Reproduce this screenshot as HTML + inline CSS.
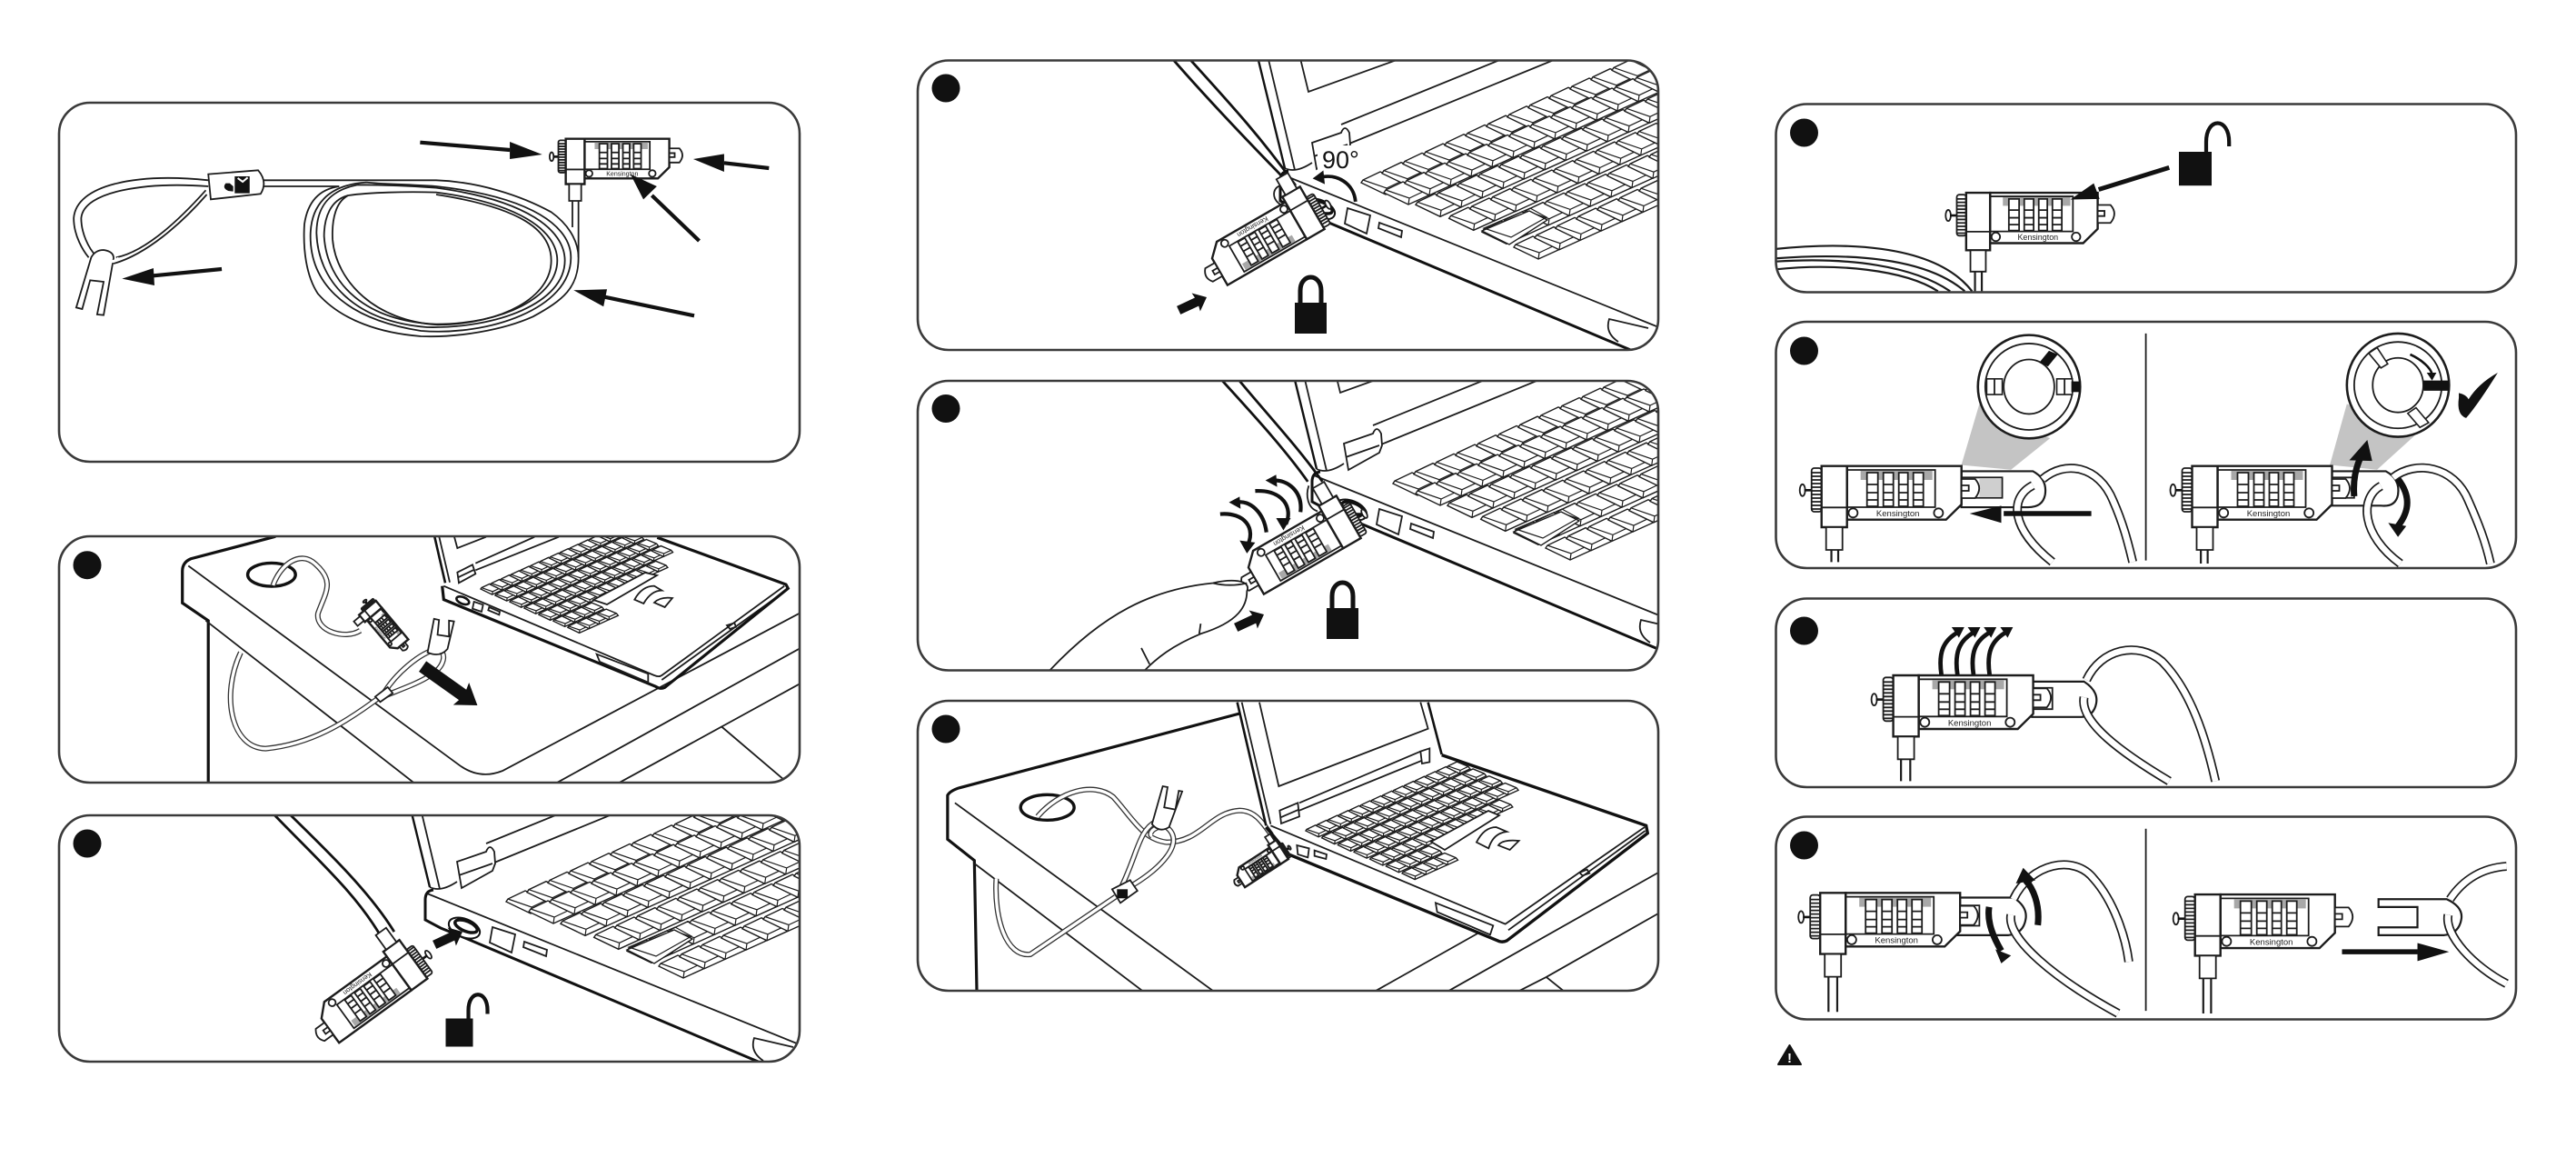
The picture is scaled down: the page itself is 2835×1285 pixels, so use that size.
<!DOCTYPE html>
<html><head><meta charset="utf-8"><title>Combination cable lock instructions</title>
<style>
html,body{margin:0;padding:0;background:#fff}
svg{display:block}
svg *{vector-effect:non-scaling-stroke}
.t{fill:none;stroke:#1c1c1c;stroke-width:1.8}
.m{fill:none;stroke:#111;stroke-width:2.6}
.h{fill:none;stroke:#111;stroke-width:4.2}
.hh{fill:none;stroke:#111;stroke-width:7}
.f{fill:#111;stroke:none}
.wf{fill:#fff;stroke:#1c1c1c;stroke-width:1.8}
.kf{fill:#fff;stroke:#1c1c1c;stroke-width:1.4}
.kl{fill:none;stroke:#1c1c1c;stroke-width:1.2}
.c{fill:none;stroke:#333;stroke-width:6}
.w{fill:none;stroke:#fff;stroke-width:3.4}
.C{fill:none;stroke:#1c1c1c;stroke-width:10}
.W{fill:none;stroke:#fff;stroke-width:6.6}
.p{fill:none;stroke:#3a3a3a;stroke-width:2.6}
text{font-family:"Liberation Sans",sans-serif}
</style></head><body>
<svg xmlns="http://www.w3.org/2000/svg" width="2835" height="1285" viewBox="0 0 2835 1285">
<defs>
<clipPath id="c1"><rect x="65" y="113" width="815" height="395" rx="34"/></clipPath>
<clipPath id="c2"><rect x="65" y="590" width="815" height="271" rx="34"/></clipPath>
<clipPath id="c3"><rect x="65" y="897" width="815" height="271" rx="34"/></clipPath>
<clipPath id="c4"><rect x="1010" y="66.500" width="815" height="318.500" rx="34"/></clipPath>
<clipPath id="c5"><rect x="1010" y="419" width="815" height="318.500" rx="34"/></clipPath>
<clipPath id="c6"><rect x="1010" y="771" width="815" height="319" rx="34"/></clipPath>
<clipPath id="c7"><rect x="1954.500" y="114.500" width="814.500" height="207" rx="34"/></clipPath>
<clipPath id="c8"><rect x="1954.500" y="354" width="814.500" height="271" rx="34"/></clipPath>
<clipPath id="c9"><rect x="1954.500" y="658.500" width="814.500" height="207.500" rx="34"/></clipPath>
<clipPath id="c10"><rect x="1954.500" y="898.500" width="814.500" height="223" rx="34"/></clipPath>

<g id="L">
<ellipse cx="-35" cy="-40.700" rx="3" ry="6.500" class="wf"/>
<path d="M-33 -40.700H-25" class="m"/>
<rect x="-25" y="-65" width="11" height="48" rx="3" class="wf"/>
<path d="M-25 -60h11M-25 -56h11M-25 -52h11M-25 -48h11M-25 -44h11M-25 -40h11M-25 -36h11M-25 -32h11M-25 -28h11M-25 -24h11M-25 -20h11" class="t"/>
<path d="M14 -67.300H140V-25L123 -8.300H14Z" class="wf" style="stroke-width:2.4"/>
<rect x="14" y="-63" width="97" height="41" fill="none" class="t"/>
<rect x="29" y="-62" width="79" height="10" fill="#a8a8a8"/>
<g class="wf">
<rect x="36" y="-60" width="12" height="37"/><rect x="54" y="-60" width="11" height="37"/><rect x="71" y="-60" width="10" height="37"/><rect x="87" y="-60" width="11" height="37"/>
</g>
<path d="M36 -47h12M36 -38h12M36 -30h12M54 -47h11M54 -38h11M54 -30h11M71 -47h10M71 -38h10M71 -30h10M87 -47h11M87 -38h11M87 -30h11" class="t"/>
<ellipse cx="20.700" cy="-15.700" rx="5" ry="5" class="wf"/><ellipse cx="114.700" cy="-15.700" rx="5" ry="5" class="wf"/>
<text x="70" y="-12" font-size="9.500" text-anchor="middle" fill="#222">Kensington</text>
<path d="M140 -53H155Q164 -43 155 -32H140Z" class="wf"/>
<rect x="140" y="-46" width="8" height="6" class="wf"/>
<path d="M-14 -67.300H14V0H-14Z" class="wf" style="stroke-width:2.4"/>
<path d="M-14 -21.700H14" class="t"/>
<path d="M-9 0H9V25H-9Z" class="wf"/>
</g>

<g id="K"><path d="M0 0L2 -3L21 -12L45 -2L49 3L27 13Z" class="kf"/><path d="M2 -3L28 6L45 -2M28 6L27 13" class="kl"/></g>
<g id="r4"><use href="#K"/><use href="#K" x="23" y="-10.300"/><use href="#K" x="46" y="-20.600"/><use href="#K" x="69" y="-30.900"/></g>
<g id="r12"><use href="#r4"/><use href="#r4" x="92" y="-41.200"/><use href="#r4" x="184" y="-82.400"/></g>
<g id="r14"><use href="#r12"/><use href="#K" x="276" y="-123.600"/><use href="#K" x="299" y="-133.900"/></g>
<g id="r16"><use href="#r12"/><use href="#r4" x="276" y="-123.600"/></g>
<g id="kb"><use href="#r16"/><use href="#r16" x="25" y="11"/><use href="#r16" x="60" y="24.300"/><use href="#r16" x="96.700" y="39.300"/><use href="#r16" x="133" y="54.300"/>
<path d="M133 53L185 31L205 41L163 68Z" class="kf"/><path d="M135 50L186 28L204 38L165 60Z" class="kl"/>
<use href="#r16" x="168" y="71"/></g>
<g id="kbs"><use href="#r14"/><use href="#r14" x="34" y="15"/><use href="#r14" x="68" y="30"/><use href="#r14" x="102" y="45"/><use href="#r12" x="136" y="60"/><use href="#r4" x="170" y="75"/><use href="#r4" x="204" y="90"/></g>

<g id="lap">
<path d="M-142 -253L-84 -16" class="m" style="stroke-width:2.4"/>
<path d="M-130 -253L-73 -14" class="t"/>
<path d="M-84 -16Q-72 -10 -54 -22" class="t"/>
<path d="M-80 -190L-58 -100L100 -157" class="t"/>
<path d="M-22 -64L300 -195M-13 -43L300 -171" class="t"/>
<path d="M-54 -44L-22 -55Q-18 -65 -13 -55L-12 -42L-15 -34L-49 -15ZM-52 -29L-15 -42" class="wf"/>
<path d="M-87 -9L320 156L360 172" class="t"/>
<path d="M-80 -13Q-89 -12 -89 -2V20L-72 29L-45 40L275 175L330 198" class="m" style="stroke-width:3"/>
<ellipse cx="-46" cy="29" rx="18" ry="10" transform="rotate(22 -46 29)" fill="#fff" stroke="#111" stroke-width="2"/>
<ellipse cx="-44" cy="27" rx="13" ry="5.500" transform="rotate(22 -44 27)" fill="none" stroke="#111" stroke-width="3.5"/>
<path d="M-15 28L10 36L6 56L-18 45Z" class="t"/>
<path d="M20 44L45 53L44 60L19 50Z" class="t"/>
<path d="M283 175Q268 165 273 150L316 160" class="t"/>
<use href="#kb"/>
</g>

<g id="cl"><rect x="0" y="0" width="35" height="34" class="f"/><path d="M6 1V-13C6 -33 29 -33 29 -13V1" fill="none" stroke="#111" stroke-width="5"/></g>
<g id="ol"><rect x="0" y="0" width="30" height="31" class="f"/><path d="M25 1V-9C25 -32 46 -32 46 -9V-5" fill="none" stroke="#111" stroke-width="4.200"/></g>
<polygon id="ba" points="0,0 -13,-11 -12,-5 -34,-5 -34,5 -12,5 -13,11" class="f"/>

<path id="pa" d="M475 190C490 130 530 90 560 130C600 180 580 210 565 270C560 320 620 345 650 318"/>
<path id="pb" d="M410 380C370 500 390 650 460 652C550 640 620 580 695 500"/>
<path id="pc" d="M695 500C720 440 770 380 805 370C825 380 820 420 790 445C770 465 730 485 695 505"/>
<path id="q1" d="M265 415C310 330 380 300 420 350C460 420 480 490 530 500C600 500 620 400 680 395C710 395 725 430 745 475"/>
<path id="q2" d="M430 670C470 550 470 460 510 430"/>
<path id="q3" d="M440 660C520 590 570 500 530 450C510 440 490 470 500 480"/>
<path id="q4" d="M425 680L250 870C200 880 175 750 180 620"/>
<path id="r1" d="M575 1240C620 1180 690 1195 720 1310C740 1380 750 1440 760 1505"/>
<path id="r2" d="M555 1260C505 1300 510 1400 595 1505"/>
<path id="r3" d="M1295 1235C1340 1180 1420 1195 1450 1310C1470 1380 1485 1440 1495 1510"/>
<path id="r4p" d="M1270 1262C1225 1300 1230 1420 1310 1510"/>
<path id="s1" d="M665 285C695 185 770 160 820 225C880 320 910 470 930 608"/>
<path id="s2" d="M660 340C650 420 740 520 835 608"/>
<path id="u1" d="M515 985C550 870 640 840 680 920C720 990 745 1100 752 1185"/>
<path id="u2" d="M510 1035C500 1110 600 1240 730 1350"/>
<path id="u3" d="M1412 985C1440 920 1480 885 1528 880"/>
<path id="u4" d="M1408 1035C1400 1100 1460 1200 1528 1255"/>
</defs>

<rect width="2835" height="1285" fill="#fff"/>

<!-- P1 -->
<g clip-path="url(#c1)"><g transform="translate(320 140) scale(.3333)">
<path d="M-110 175H480C620 180 760 225 860 280C930 330 950 390 950 430C950 530 900 570 800 625C700 670 550 695 430 690C300 680 170 640 90 550C50 490 40 400 45 320C55 250 90 205 160 195H-110" class="t"/>
<path d="M250 182C120 190 65 260 65 360C65 500 160 630 430 672C650 690 925 600 925 430C925 330 800 230 480 195C380 188 300 188 250 182" class="t"/>
<path d="M220 190C120 210 85 270 85 350C90 500 200 640 450 660C680 665 905 580 905 440C905 340 780 240 480 200C380 192 300 190 220 190" class="t"/>
<path d="M190 225C130 240 110 300 110 360C120 520 250 640 480 650C700 650 880 560 880 440C880 340 750 250 480 215C380 212 260 215 190 225" class="t"/>
<path d="M190 225C150 245 135 300 138 370C150 510 280 640 485 652C700 650 860 560 860 440C860 340 760 265 480 222" class="t"/>
<path d="M930 245V330M950 245V430" class="t"/>
</g>
<g transform="translate(40 90) scale(.5485 .3333)">
<path d="M345 325C200 300 80 340 75 450C75 510 95 560 105 580M345 345C220 330 95 360 90 450C90 500 105 550 120 575M340 358C290 450 220 560 160 580M342 372C290 470 220 570 155 600" class="t"/>
<path d="M345 305L445 292Q465 330 450 370L350 388Z" class="wf"/>
<path d="M380 335Q372 350 385 360L395 362L395 345L388 335ZM398 312H428V368H398Z" class="f"/>
<path d="M404 318L414 330L424 316" fill="none" stroke="#fff" stroke-width="2"/>
<path d="M110 580Q118 555 135 555Q155 560 155 582L135 770L122 768L135 660L108 655L92 750L80 745Z" class="wf"/>
<path d="M132 590Q160 600 165 580" fill="none" stroke="#fff" stroke-width="3"/>
<g class="h">
<path d="M770 200L950 225M1470 285L1380 268M1320 772L1140 710M372 618L235 640"/></g>
<g class="f">
<polygon points="950,198 1015,240 950,255"/><polygon points="1380,238 1318,255 1380,297"/><polygon points="1145,685 1078,688 1138,742"/><polygon points="235,615 172,650 237,672"/></g>
</g>
<use href="#L" transform="translate(633 202.500) scale(.74)"/>
<g transform="translate(40 90) scale(.5485 .3333)"><path d="M1330 525L1235 375" class="h"/><polygon points="1245,345 1192,305 1218,388" class="f"/></g>
</g>

<!-- P2 -->
<g clip-path="url(#c2)"><g transform="translate(40 570) scale(.5485 .389)">
<path d="M480 52L310 115Q293 125 293 150V240L345 290V748" class="m" style="stroke-width:3.2"/>
<path d="M305 135L850 700Q890 740 935 715L1530 270M340 290L757 748M1045 748L1530 370M1170 748L1375 590L1500 740M1375 590L1530 470" class="t"/>
<ellipse cx="472" cy="160" rx="48" ry="33" fill="none" stroke="#111" stroke-width="3.4"/>
<use href="#pa" class="c"/><use href="#pa" class="w"/>
<use href="#pb" class="c"/><use href="#pb" class="w"/>
<use href="#pc" class="c"/><use href="#pc" class="w"/>
<path d="M680 505L705 478L715 495L690 520Z" class="wf"/>
<path d="M785 380L798 285L808 288L805 330L828 335L828 290L838 292L825 370Q810 395 785 380Z" class="wf"/>
</g>
<g transform="translate(460 588) scale(.3333)">
<path d="M55 8L90 160" class="m"/><path d="M70 8L105 158M120 8L130 45L225 8M385 8L190 95M465 8L190 118" class="t"/>
<path d="M130 125L180 100L190 130L135 160ZM132 142L186 116" class="wf"/>
<path d="M85 170L780 465Q795 472 805 465L1210 170M805 480L1215 185" class="t"/>
<path d="M790 10L1215 165L1222 178L815 505Q800 512 785 502L85 215L80 170" class="m" style="stroke-width:3.2"/>
<path d="M590 395L760 460V488L600 420Z" class="t"/>
<ellipse cx="148" cy="218" rx="22" ry="11" transform="rotate(22 148 218)" class="m"/>
<path d="M185 222L215 232L210 255L180 245ZM235 240L270 255L268 265L232 250Z" class="t"/>
<path d="M715 215Q740 170 780 170L805 185Q770 185 745 228ZM780 225Q800 205 840 210L815 240Z" class="t"/>
<path d="M1020 300L1045 292L1050 305L1030 312Z" class="t"/>
</g>
<use href="#kbs" transform="translate(529 648) scale(.47)"/>
<path d="M653 660L710 630L723 633L668 665Z" class="wf"/>
<use href="#L" transform="translate(398.400 680.400) rotate(50) scale(.36)"/>
<polygon points="0,0 -22,-15 -20,-7 -74,-7 -74,7 -20,7 -22,15" class="f" transform="translate(525.400 776) rotate(35.400)"/>
</g>

<!-- P3 -->
<g clip-path="url(#c3)">
<use href="#lap" transform="translate(557 992)"/>
<g transform="translate(40 570) scale(.5485 .389)">
<path d="M478 840C560 960 640 1060 690 1180M510 840C590 950 670 1060 718 1170" class="m" style="stroke-width:2.8"/>
</g>
<use href="#L" transform="translate(430.700 1040.600) rotate(144) scale(.78)"/>
<use href="#ba" transform="translate(509 1025) rotate(-25)"/>
<use href="#ol" transform="translate(490.500 1120.500)"/>
</g>

<!-- P4 -->
<g clip-path="url(#c4)">
<use href="#lap" transform="translate(1498 201)"/>
<g transform="translate(1000 50) scale(.5357 .4464)">
<path d="M545 37C620 140 700 240 765 320M580 37C650 130 720 220 795 345" class="m" style="stroke-width:2.8"/>
<path d="M765 345C745 350 745 385 770 395" class="t"/>
</g>
<rect x="1450" y="160" width="48" height="30" fill="#fff"/>
<g transform="translate(1000 50) scale(.5357 .4464)">
<path d="M918 385C915 340 880 315 845 325" class="m" style="stroke-width:3.8"/>
<polygon points="830,328 852,308 855,342" class="f"/>
</g>
<use href="#L" transform="translate(1421 211) rotate(150) scale(.8)"/>
<use href="#ba" transform="translate(1328 327) rotate(-25)"/>
<use href="#cl" transform="translate(1425 333)"/>
<text x="1455" y="185" font-size="27" fill="#111">90°</text>
</g>

<!-- P5 -->
<g clip-path="url(#c5)">
<use href="#lap" transform="translate(1533 532)"/>
<g transform="translate(1000 50) scale(.5357 .4464)">
<path d="M645 827C700 900 770 990 820 1075M680 827C730 900 800 990 850 1075" class="m" style="stroke-width:2.8"/>
<path d="M822 1085C815 1110 820 1140 840 1148" class="t"/>
</g>
<use href="#L" transform="translate(1461 551) rotate(150) scale(.8)"/>
<g transform="translate(1000 50) scale(.5357 .4464)">
<path d="M290 1540C400 1400 500 1340 625 1325C660 1315 705 1315 695 1345C695 1380 680 1420 600 1450C540 1480 510 1510 485 1540" class="wf"/>
<path d="M625 1325Q660 1335 695 1325M478 1485L495 1525M597 1450L600 1425" class="t"/>
<path d="M640 1155C690 1150 715 1190 695 1235M735 1200C730 1150 700 1120 675 1126M775 1180C790 1140 770 1095 712 1098M805 1150C810 1100 780 1070 748 1072" class="h"/>
<g class="f"><polygon points="695,1252 680,1220 712,1225"/><polygon points="658,1126 680,1112 682,1142"/><polygon points="770,1195 755,1165 785,1165"/><polygon points="733,1072 755,1058 757,1088"/></g>
</g>
<use href="#ba" transform="translate(1391 676) rotate(-25)"/>
<use href="#cl" transform="translate(1460 669)"/>
</g>

<!-- P6 -->
<g clip-path="url(#c6)"><g transform="translate(1000 760) scale(.5357 .3333)">
<path d="M680 75L105 320Q85 330 80 345V490L135 560L140 990" class="m" style="stroke-width:3.2"/>
<path d="M95 370L625 990M135 570L480 990M960 990L1170 800M1110 990L1540 600M1255 990L1310 945L1345 990M1310 945L1540 735" class="t"/>
<ellipse cx="285" cy="385" rx="55" ry="42" fill="none" stroke="#111" stroke-width="3.4"/>
<use href="#q1" class="c"/><use href="#q1" class="w"/>
<use href="#q2" class="c"/><use href="#q2" class="w"/>
<use href="#q3" class="c"/><use href="#q3" class="w"/>
<use href="#q4" class="c"/><use href="#q4" class="w"/>
<path d="M418 655L455 625L470 660L435 700Z" class="wf"/>
<path d="M428 655h22v30h-22z" class="f"/>
<path d="M500 440L522 315L532 318L525 385L548 392L555 330L562 332L535 450Q515 470 500 440Z" class="wf"/>
</g>
<g transform="translate(1350 770) scale(.3333)">
<path d="M35 8L130 415M665 8L710 180" class="m"/>
<path d="M50 8L145 410M108 8L172 285L665 95L640 8M240 340L640 170M240 365L670 190" class="t"/>
<path d="M175 365L235 340L240 385L180 408ZM178 388L238 362M640 170L670 160L670 205L645 210Z" class="wf"/>
<path d="M145 415L920 740L1380 420M930 760L1382 432" class="t"/>
<path d="M710 182L1385 415L1390 440L925 795Q910 802 895 795L205 510L130 420" class="m" style="stroke-width:3.4"/>
<path d="M690 670L880 745L870 775L695 700Z" class="t"/>
<path d="M232 480L272 490L268 520L235 510ZM290 497L330 510L328 525L290 515Z" class="t"/>
<path d="M825 470Q850 420 890 420L925 435Q880 440 865 490ZM897 480Q910 460 965 465L935 495Z" class="t"/>
<path d="M1165 570L1190 560L1198 572L1175 580Z" class="t"/>
</g>
<use href="#kbs" transform="translate(1437 914) scale(.52)"/>
<path d="M1575 926L1638 892L1650 897L1590 935Z" class="wf"/>
<use href="#L" transform="translate(1400 927) rotate(147) scale(.37)"/>
</g>

<!-- P7 -->
<g clip-path="url(#c7)"><g transform="translate(1940 100) scale(.5357 .3444)">
<path d="M27 505C150 485 350 480 430 640M27 535C200 515 340 540 415 640M27 545C180 530 310 560 385 640M27 570C150 550 290 570 360 640M436 578V640M450 578V640" class="t" style="stroke-width:2.2"/>
</g>
<use href="#L" transform="translate(2177 275.300) scale(.94)"/>
<g transform="translate(1940 100) scale(.5357 .3444)">
<path d="M835 245L690 315" class="h" style="stroke-width:5"/>
<polygon points="680,295 632,347 692,345" class="f"/>
</g>
<use href="#ol" transform="translate(2398 167) scale(1.2)"/>
</g>

<!-- P8 -->
<g clip-path="url(#c8)"><g transform="translate(1940 100) scale(.5357 .3444)">
<path d="M787 775V1500" class="t"/>
<polygon points="408,1195 445,1000 590,1110 510,1210" fill="#c4c4c4"/>
<polygon points="1165,1195 1200,1000 1340,1100 1262,1210" fill="#c4c4c4"/>
<ellipse cx="547" cy="945" rx="105" ry="165" fill="#fff" stroke="#1c1c1c" stroke-width="2.6"/>
<ellipse cx="547" cy="945" rx="90" ry="138" class="t"/>
<ellipse cx="547" cy="945" rx="52" ry="87" class="t"/>
<polygon points="568,868 588,830 606,842 586,880" class="f"/>
<rect x="604" y="920" width="32" height="50" fill="#fff" stroke="#1c1c1c" stroke-width="1.6"/>
<rect x="634" y="928" width="18" height="34" class="f"/>
<rect x="460" y="920" width="32" height="50" fill="#fff" stroke="#1c1c1c" stroke-width="1.6"/>
<path d="M476 920V970M620 920V970" class="t"/>
<path d="M408 1215H555Q585 1240 580 1290Q575 1330 545 1330H408Z" class="wf" style="stroke-width:2.2"/>
<path d="M408 1235H492V1300H408" class="t"/>
<polygon points="445,1240 490,1240 490,1298 445,1298" fill="#cfcfcf"/>
<use href="#r1" class="C"/><use href="#r1" class="W"/>
<use href="#r2" class="C"/><use href="#r2" class="W"/>
<path d="M495 1350H675" fill="none" stroke="#111" stroke-width="5.500"/>
<polygon points="425,1350 490,1325 490,1380" class="f"/>
<ellipse cx="1305" cy="940" rx="105" ry="165" fill="#fff" stroke="#1c1c1c" stroke-width="2.6"/>
<ellipse cx="1305" cy="940" rx="90" ry="138" class="t"/>
<ellipse cx="1305" cy="940" rx="52" ry="87" class="t"/>
<polygon points="1358,925 1410,925 1410,958 1358,958" class="f"/>
<polygon points="1245,838 1262,820 1284,872 1270,885" fill="#fff" stroke="#1c1c1c" stroke-width="1.6"/>
<polygon points="1325,1030 1342,1012 1368,1060 1350,1075" fill="#fff" stroke="#1c1c1c" stroke-width="1.6"/>
<path d="M1330 842C1355 860 1372 885 1375 905" class="m"/>
<polygon points="1375,925 1364,900 1384,900" class="f"/>
<path d="M1430 980Q1425 1035 1445 1045Q1470 1000 1510 900Q1470 935 1450 985Q1445 970 1430 965Z" class="f"/>
<path d="M1165 1215H1280Q1310 1240 1305 1290Q1300 1330 1270 1325H1165Z" class="wf" style="stroke-width:2.2"/>
<path d="M1165 1235H1215V1300H1165" class="t"/>
<use href="#r3" class="C"/><use href="#r3" class="W"/>
<use href="#r4p" class="C"/><use href="#r4p" class="W"/>
<path d="M1305 1240C1335 1300 1325 1350 1305 1390" class="hh"/>
<polygon points="1305,1425 1285,1380 1322,1390" class="f"/>
<path d="M141 1430V1505M155 1430V1505M900 1430V1510M914 1430V1510" class="t" style="stroke-width:2.2"/>
</g>
<use href="#L" transform="translate(2018.700 580)"/>
<use href="#L" transform="translate(2426.500 580)"/>
<g transform="translate(1940 100) scale(.5357 .3444)">
<path d="M1215 1295C1212 1240 1220 1190 1235 1150" class="hh"/>
<polygon points="1242,1115 1205,1180 1252,1182" class="f"/>
</g>
</g>

<!-- P9 -->
<g clip-path="url(#c9)"><g transform="translate(1940 650) scale(.5357 .3444)">
<path d="M284 535V608M303 535V608" class="t" style="stroke-width:2.2"/>
<path d="M553 290H660Q690 320 685 360Q680 400 655 403H553Z" class="wf" style="stroke-width:2.2"/>
<path d="M553 310H595V378H553" class="t"/>
<use href="#s1" class="C"/><use href="#s1" class="W"/>
<use href="#s2" class="C"/><use href="#s2" class="W"/>
</g>
<use href="#L" transform="translate(2097.600 810.300)"/>
<g transform="translate(1940 650) scale(.5357 .3444)">
<path d="M367 268C360 195 372 160 398 135M400 268C393 195 405 160 431 135M433 268C426 195 438 160 464 135M466 268C459 195 471 160 497 135" class="h" style="stroke-width:4.800"/>
<g class="f"><polygon points="414,116 388,116 403,150"/><polygon points="447,116 421,116 436,150"/><polygon points="480,116 454,116 469,150"/><polygon points="514,116 488,116 503,150"/></g>
</g>
</g>

<!-- P10 -->
<g clip-path="url(#c10)"><g transform="translate(1940 650) scale(.5357 .3444)">
<path d="M787 760V1342" class="t"/>
<path d="M135 1230V1345M153 1230V1345M905 1235V1350M921 1235V1350" class="t" style="stroke-width:2.2"/>
<path d="M400 980H515Q545 1010 540 1050Q535 1095 505 1100H400Z" class="wf" style="stroke-width:2.2"/>
<path d="M400 1005H445V1070H400" class="t"/>
<use href="#u1" class="C"/><use href="#u1" class="W"/>
<use href="#u2" class="C"/><use href="#u2" class="W"/>
<path d="M565 1068C570 1000 555 950 540 925" class="hh"/>
<polygon points="535,885 520,935 560,925" class="f"/>
<path d="M1265 985H1405Q1440 1010 1435 1050Q1430 1095 1400 1100H1265V1075H1345V1010H1265Z" class="wf" style="stroke-width:2.2"/>
<use href="#u3" class="C"/><use href="#u3" class="W"/>
<use href="#u4" class="C"/><use href="#u4" class="W"/>
<path d="M1190 1153H1345" fill="none" stroke="#111" stroke-width="5.500"/>
<polygon points="1410,1153 1345,1125 1345,1183" class="f"/>
</g>
<use href="#L" transform="translate(2017.200 1049.600)"/>
<use href="#L" transform="translate(2429.700 1051.400)"/>
<g transform="translate(1940 650) scale(.5357 .3444)">
<path d="M465 1010C460 1060 475 1110 490 1150" class="hh"/>
<polygon points="490,1190 478,1145 510,1165" class="f"/>
</g>
</g>

<!-- Panel borders -->
<g class="p">
<rect x="65" y="113" width="815" height="395" rx="34"/>
<rect x="65" y="590" width="815" height="271" rx="34"/>
<rect x="65" y="897" width="815" height="271" rx="34"/>
<rect x="1010" y="66.500" width="815" height="318.500" rx="34"/>
<rect x="1010" y="419" width="815" height="318.500" rx="34"/>
<rect x="1010" y="771" width="815" height="319" rx="34"/>
<rect x="1954.500" y="114.500" width="814.500" height="207" rx="34"/>
<rect x="1954.500" y="354" width="814.500" height="271" rx="34"/>
<rect x="1954.500" y="658.500" width="814.500" height="207.500" rx="34"/>
<rect x="1954.500" y="898.500" width="814.500" height="223" rx="34"/>
</g>

<!-- Bullets -->
<g class="f">
<circle cx="96" cy="621.700" r="15.500"/><circle cx="96" cy="928" r="15.500"/>
<circle cx="1041" cy="97" r="15.500"/><circle cx="1041" cy="449.500" r="15.500"/><circle cx="1041" cy="802" r="15.500"/>
<circle cx="1985.500" cy="146" r="15.500"/><circle cx="1985.500" cy="386" r="15.500"/><circle cx="1985.500" cy="694" r="15.500"/><circle cx="1985.500" cy="930" r="15.500"/>
</g>

<!-- Warning -->
<path d="M1969.500 1150L1982 1171H1957Z" fill="#111" stroke="#111" stroke-width="2" stroke-linejoin="round"/>
<text x="1969.500" y="1169" font-size="15" font-weight="bold" text-anchor="middle" fill="#fff">!</text>
</svg>
</body></html>
